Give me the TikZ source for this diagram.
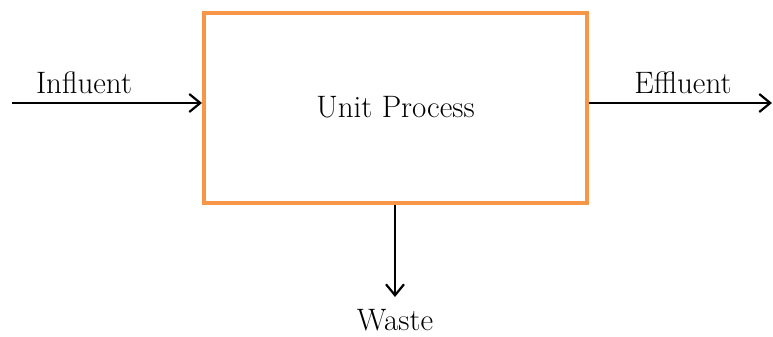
\documentclass[tikz,border=0pt]{standalone}
\usetikzlibrary{arrows.meta}
\definecolor{boxorange}{HTML}{F79646}
\begin{document}
\begin{tikzpicture}[x=1pt,y=-1pt,
  procbox/.style={draw=boxorange,line width=4pt,minimum width=383pt,minimum height=190pt,inner sep=0pt},
  flow/.style={line width=2.2pt,-{Straight Barb[length=11pt,width=18pt,line width=2.2pt]}},
  lbl/.style={anchor=base,inner sep=0pt,font=\fontsize{31}{35}\selectfont}]
\useasboundingbox (0,0) rectangle (773,337);
\node[procbox] (box) at (395.5,108) {};
\node[lbl] (up) at (395.5,117) {Unit Process};
\coordinate (in) at (12,103);
\coordinate (out) at (772,103);
\coordinate (wst) at (395,297);
\draw[flow] (in) -- (in -| box.west);
\draw[flow] (box.east |- out) -- (out);
\draw[flow] (wst |- box.south) -- (wst);
\node[lbl] (inl) at (84,93) {Influent};
\node[lbl] (outl) at (683,93) {Effluent};
\node[lbl] (wl) at (395,330) {Waste};
\end{tikzpicture}
\end{document}
